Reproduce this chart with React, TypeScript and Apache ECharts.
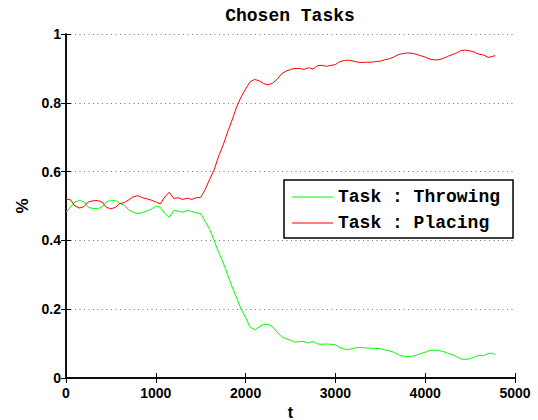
import React, { useEffect, useRef } from "react";
import * as echarts from "echarts";

const tValues = [
  0, 50, 100, 150, 200, 250, 300, 350, 400, 450, 500, 550, 600, 650, 700, 750, 800, 850, 900, 950,
  1000, 1050, 1100, 1150, 1200, 1250, 1300, 1350, 1400, 1450, 1500, 1550, 1600, 1650, 1700, 1750,
  1800, 1850, 1900, 1950, 2000, 2050, 2100, 2150, 2200, 2250, 2300, 2350, 2400, 2450, 2500, 2550,
  2600, 2650, 2700, 2750, 2800, 2850, 2900, 2950, 3000, 3050, 3100, 3150, 3200, 3250, 3300, 3350,
  3400, 3450, 3500, 3550, 3600, 3650, 3700, 3750, 3800, 3850, 3900, 3950, 4000, 4050, 4100, 4150,
  4200, 4250, 4300, 4350, 4400, 4450, 4500, 4550, 4600, 4650, 4700, 4750, 4780,
];

const throwingValues = [
  0.482, 0.497, 0.512, 0.516, 0.512, 0.496, 0.493, 0.492, 0.497, 0.512, 0.517, 0.516, 0.508, 0.502,
  0.488, 0.482, 0.478, 0.481, 0.485, 0.491, 0.5, 0.496, 0.478, 0.467, 0.487, 0.485, 0.482, 0.487,
  0.484, 0.48, 0.478, 0.455, 0.432, 0.4, 0.365, 0.336, 0.3, 0.265, 0.233, 0.2, 0.176, 0.148, 0.14,
  0.148, 0.156, 0.156, 0.149, 0.133, 0.12, 0.114, 0.11, 0.104, 0.106, 0.106, 0.102, 0.106, 0.099,
  0.098, 0.099, 0.098, 0.097, 0.088, 0.084, 0.083, 0.086, 0.089, 0.088, 0.087, 0.087, 0.086, 0.085,
  0.082, 0.079, 0.075, 0.068, 0.064, 0.062, 0.063, 0.066, 0.071, 0.075, 0.08, 0.081, 0.08, 0.077,
  0.072, 0.068, 0.062, 0.055, 0.054, 0.056, 0.061, 0.066, 0.065, 0.071, 0.072, 0.068,
];

const placingValues = [
  0.52, 0.518, 0.5, 0.494, 0.498, 0.512, 0.515, 0.516, 0.512, 0.496, 0.492, 0.496, 0.507, 0.51,
  0.518, 0.527, 0.53, 0.524, 0.521, 0.517, 0.512, 0.506, 0.526, 0.54, 0.522, 0.524, 0.519, 0.523,
  0.519, 0.524, 0.525, 0.548, 0.578, 0.605, 0.645, 0.677, 0.715, 0.75, 0.788, 0.817, 0.84, 0.861,
  0.868, 0.864, 0.856, 0.852, 0.857, 0.868, 0.884, 0.892, 0.897, 0.9, 0.9, 0.897, 0.902, 0.898,
  0.908, 0.909, 0.906, 0.909, 0.911, 0.92, 0.923, 0.924, 0.921, 0.918, 0.917, 0.918, 0.918, 0.92,
  0.921, 0.925, 0.928, 0.933, 0.94, 0.943, 0.945, 0.944, 0.941, 0.937, 0.933, 0.927, 0.925, 0.925,
  0.929, 0.935, 0.94, 0.945, 0.952, 0.953, 0.951, 0.947, 0.941, 0.939, 0.932, 0.935, 0.937,
];

const seriesNames = ["Task : Throwing", "Task : Placing"];
const seriesColors = ["#00ff00", "#ff0000"];

const MONO = "'Liberation Mono', 'Courier New', monospace";
const SANS = "'Liberation Sans', Arial, Helvetica, sans-serif";

export default function App() {
  const ref = useRef<HTMLDivElement>(null);

  useEffect(() => {
    if (!ref.current) return;
    const chart = echarts.init(ref.current, null, { renderer: "svg" });
    const toPairs = (vals: number[]) => tValues.map((t, i) => [t, vals[i]]);

    const frameLine = { show: true, lineStyle: { color: "#000", width: 1.5 } };
    const innerTick = { show: true, inside: true, length: 5, lineStyle: { color: "#000", width: 1 } };

    chart.setOption({
      animation: false,
      backgroundColor: "#fff",
      graphic: [
        {
          type: "text",
          x: 290,
          y: 16,
          style: {
            text: "Chosen Tasks",
            font: `bold 18px ${MONO}`,
            fill: "#000",
            align: "center",
            verticalAlign: "middle",
          },
        },
      ],
      grid: {
        left: 66,
        right: 23,
        top: 34,
        bottom: 42,
        containLabel: false,
        outerBoundsMode: "none",
      },
      legend: {
        orient: "vertical",
        left: 284,
        top: 180,
        backgroundColor: "#fff",
        borderColor: "#000",
        borderWidth: 1.5,
        borderRadius: 0,
        padding: [8, 13, 6, 8],
        icon: "rect",
        itemWidth: 41,
        itemHeight: 1,
        itemGap: 8,
        textStyle: { color: "#000", fontFamily: MONO, fontWeight: "bold", fontSize: 18 },
        data: seriesNames,
      },
      xAxis: [
        {
          type: "value",
          min: 0,
          max: 5000,
          interval: 1000,
          position: "bottom",
          name: "t",
          nameLocation: "middle",
          nameGap: 25,
          nameTextStyle: {
            color: "#000",
            fontFamily: SANS,
            fontWeight: "bold",
            fontSize: 16,
            lineHeight: 14,
          },
          axisLine: frameLine,
          axisTick: innerTick,
          axisLabel: {
            color: "#000",
            fontFamily: SANS,
            fontWeight: "bold",
            fontSize: 14,
            margin: 8,
            formatter: (v: number) => String(v),
          },
          splitLine: { show: false },
        },
        {
          type: "value",
          min: 0,
          max: 5000,
          interval: 1000,
          position: "top",
          axisLine: frameLine,
          axisTick: innerTick,
          axisLabel: { show: false },
          splitLine: { show: false },
        },
      ],
      yAxis: [
        {
          type: "value",
          min: 0,
          max: 1,
          interval: 0.2,
          position: "left",
          name: "%",
          nameLocation: "middle",
          nameGap: 35,
          nameTextStyle: { color: "#000", fontFamily: SANS, fontWeight: "bold", fontSize: 17 },
          axisLine: frameLine,
          axisTick: innerTick,
          axisLabel: { color: "#000", fontFamily: SANS, fontWeight: "bold", fontSize: 14, margin: 5 },
          splitLine: {
            show: true,
            lineStyle: { color: "#777", width: 1, type: [1, 3.5] },
          },
        },
        {
          type: "value",
          min: 0,
          max: 1,
          interval: 0.2,
          position: "right",
          axisLine: frameLine,
          axisTick: innerTick,
          axisLabel: { show: false },
          splitLine: { show: false },
        },
      ],
      series: [
        {
          name: seriesNames[0],
          type: "line",
          xAxisIndex: 0,
          yAxisIndex: 0,
          data: toPairs(throwingValues),
          symbol: "none",
          showSymbol: false,
          lineStyle: { color: seriesColors[0], width: 1 },
          itemStyle: { color: seriesColors[0] },
        },
        {
          name: seriesNames[1],
          type: "line",
          xAxisIndex: 0,
          yAxisIndex: 0,
          data: toPairs(placingValues),
          symbol: "none",
          showSymbol: false,
          lineStyle: { color: seriesColors[1], width: 1 },
          itemStyle: { color: seriesColors[1] },
        },
      ],
    });

    return () => chart.dispose();
  }, []);

  return (
    <div
      ref={ref}
      style={{ position: "fixed", left: 0, top: 0, width: 538, height: 420 }}
    />
  );
}
